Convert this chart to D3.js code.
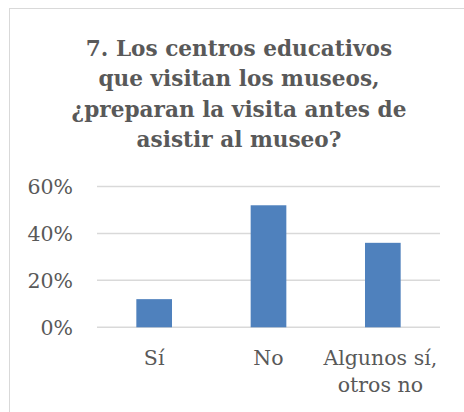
<!DOCTYPE html>
<html>
<head>
<meta charset="utf-8">
<script src="https://cdn.jsdelivr.net/npm/d3@7"></script>
<style>
  html, body { margin: 0; padding: 0; background: #fff; }
  svg { display: block; }
</style>
</head>
<body>
<script>
// Survey answers for question 7
const categories = ["Sí", "No", "Algunos sí, otros no"];
const categoryLines = [["Sí"], ["No"], ["Algunos sí,", "otros no"]];
const values = [0.12, 0.52, 0.36];
const tickValues = [0, 0.2, 0.4, 0.6];
const titleLines = [
  "7. Los centros educativos",
  "que visitan los museos,",
  "¿preparan la visita antes de",
  "asistir al museo?"
];

const W = 464, H = 412;
const textColor = "#595959";
const serif = "'DejaVu Serif', serif";

const svg = d3.select("body").append("svg")
  .attr("width", W).attr("height", H);

// chart frame
svg.append("rect")
  .attr("x", 9.5).attr("y", 8.5)
  .attr("width", W + 10).attr("height", H + 10)
  .attr("fill", "#fff").attr("stroke", "#d9d9d9").attr("stroke-width", 1);

// title
const title = svg.append("text")
  .attr("text-anchor", "middle")
  .attr("font-family", serif)
  .attr("font-weight", "bold")
  .attr("font-size", 21.6)
  .attr("fill", textColor);
titleLines.forEach((t, i) => {
  title.append("tspan").attr("x", 239).attr("y", 56 + i * 30.3).text(t);
});

const plot = { left: 97, right: 440, top: 186.5, bottom: 327.3 };

const x = d3.scaleBand()
  .domain(categories)
  .range([plot.left, plot.right])
  .paddingInner(0.688).paddingOuter(0.344);

const y = d3.scaleLinear()
  .domain([0, 0.6])
  .range([plot.bottom, plot.top]);

// gridlines
svg.append("g")
  .selectAll("line")
  .data(tickValues)
  .join("line")
  .attr("x1", plot.left).attr("x2", plot.right)
  .attr("y1", d => y(d)).attr("y2", d => y(d))
  .attr("stroke", "#d9d9d9").attr("stroke-width", 1.5);

// y axis labels
const yAxis = svg.append("g")
  .attr("transform", `translate(${plot.left - 24},0)`)
  .call(d3.axisLeft(y).tickValues(tickValues).tickFormat(d3.format(".0%")).tickSize(0));
yAxis.select(".domain").remove();
yAxis.selectAll("text")
  .attr("font-family", serif)
  .attr("font-size", 20.5)
  .attr("fill", textColor)
  .attr("dy", "0.35em")
  .attr("x", 0);

// bars
svg.append("g")
  .selectAll("rect")
  .data(values)
  .join("rect")
  .attr("x", (d, i) => x(categories[i]))
  .attr("width", x.bandwidth())
  .attr("y", d => y(d))
  .attr("height", d => y(0) - y(d))
  .attr("fill", "#4f81bd");

// category labels
const xl = svg.append("g")
  .attr("font-family", serif)
  .attr("font-size", 20.5)
  .attr("fill", textColor)
  .attr("text-anchor", "middle");
categories.forEach((c, i) => {
  const t = xl.append("text");
  categoryLines[i].forEach((line, j) => {
    t.append("tspan")
      .attr("x", x(c) + x.bandwidth() / 2 - (i === 2 ? 2.5 : 0))
      .attr("y", 365 + j * 27)
      .text(line);
  });
});
</script>
</body>
</html>
